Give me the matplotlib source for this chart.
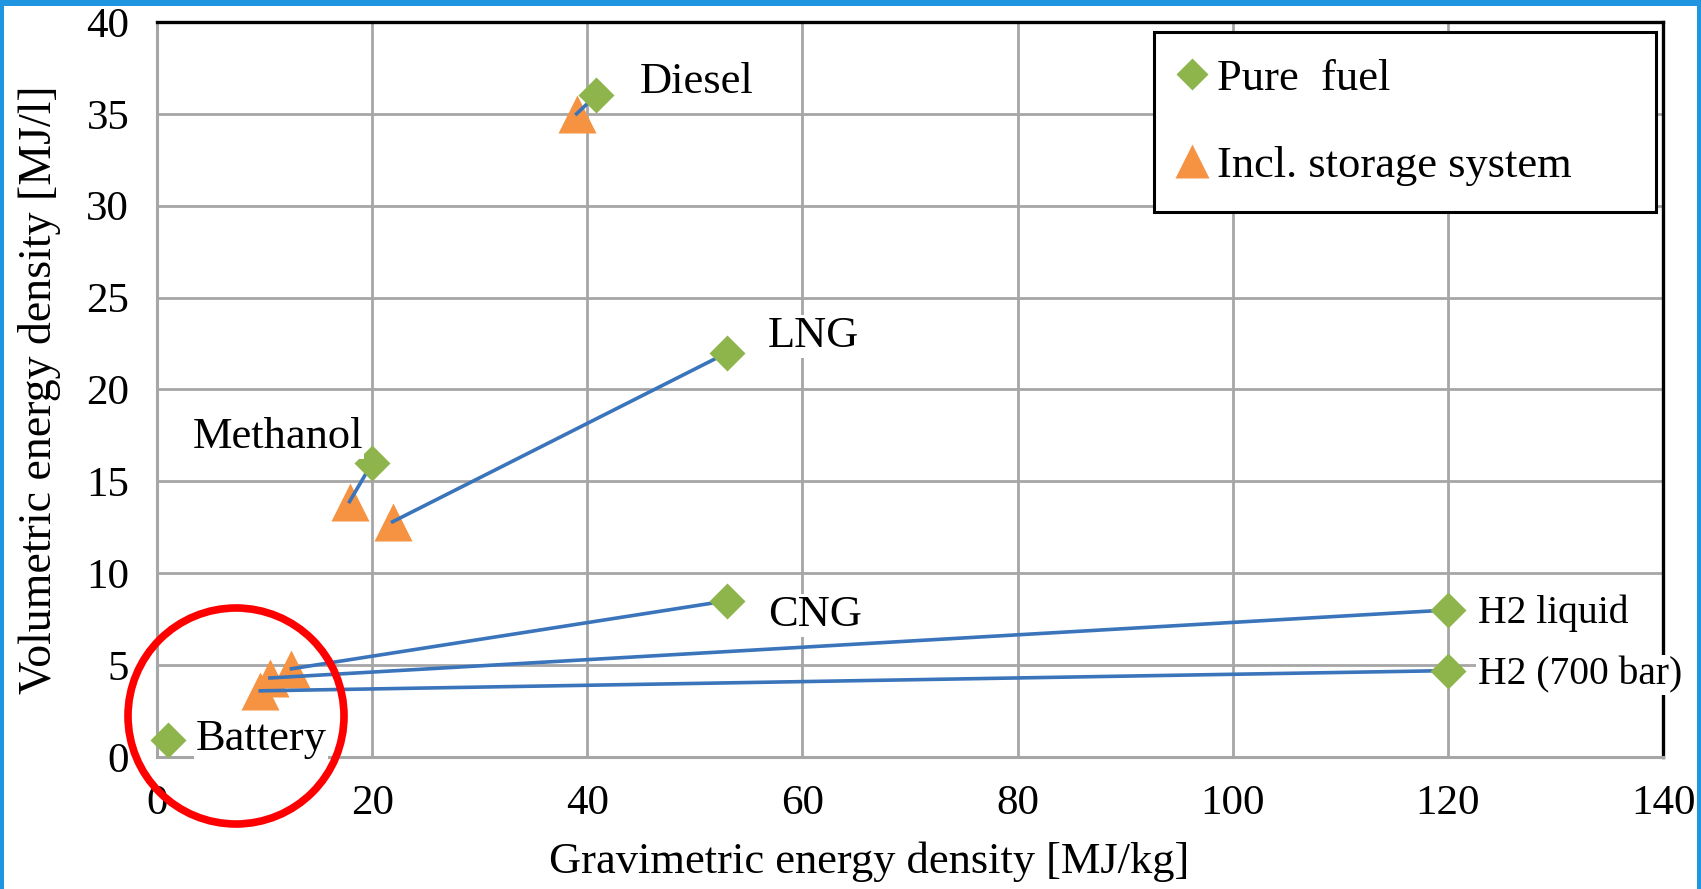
import matplotlib
matplotlib.use("Agg")
import matplotlib.pyplot as plt
from matplotlib.lines import Line2D
from matplotlib.patches import Circle, Rectangle

# Energy densities: pure fuel vs. including the storage system
fuels = ['Diesel', 'LNG', 'Methanol', 'CNG', 'H2 liquid', 'H2 (700 bar)', 'Battery']
pure_grav = [40.8, 53.0, 20.0, 53.0, 120.0, 120.0, 1.0]
pure_vol = [36.0, 22.0, 16.0, 8.5, 8.0, 4.7, 0.9]
# storage-system values (Battery has none)
stor_grav = [39.0, 21.9, 17.9, 12.5, 10.5, 9.6, None]
stor_vol = [35.0, 12.8, 13.9, 4.8, 4.3, 3.6, None]

# where each fuel name is written
label_x = [44.9, 56.8, 3.3, 56.8, 122.8, 122.8, 3.6]
label_y = [36.75, 22.9, 17.4, 7.7, 7.8, 4.45, 1.0]

green = '#8eb54b'
orange = '#f59342'
blue = '#3a74bb'
grid_grey = '#a6a6a6'

plt.rcParams['font.family'] = ['Liberation Serif', 'DejaVu Serif']

fig = plt.figure(figsize=(17.01, 8.89), dpi=100)
ax = fig.add_axes([0.0923, 0.1485, 0.8854, 0.8268])

# storage points, connecting lines, then pure points on top
for i in range(len(fuels)):
    if stor_grav[i] is None:
        continue
    ax.plot(stor_grav[i], stor_vol[i], marker='^', ms=28, color=orange,
            mec='none', zorder=3, clip_on=False)
    ax.plot([pure_grav[i], stor_grav[i]], [pure_vol[i], stor_vol[i]],
            color=blue, lw=2.6, zorder=4)
ax.plot(pure_grav, pure_vol, 'D', ms=18, color=green, mec='none',
        zorder=5, clip_on=False)

for name, lx, ly in zip(fuels, label_x, label_y):
    # the hydrogen labels sit by the right edge and are set a bit smaller
    size = 28.5 if name.startswith('H2') else 32
    ax.text(lx, ly, name, fontsize=size, va='center', ha='left', zorder=6,
            bbox=dict(facecolor='white', edgecolor='none', pad=1))

ax.set_xlim(0, 140)
ax.set_ylim(0, 40)
ax.set_xticks(range(0, 141, 20))
ax.set_yticks(range(0, 41, 5))
ax.tick_params(length=0, labelsize=31)
ax.tick_params(axis='y', pad=20)
ax.tick_params(axis='x', pad=20)
ax.grid(True, color=grid_grey, lw=2)
ax.set_axisbelow(True)

for side in ['left', 'bottom']:
    ax.spines[side].set_color(grid_grey)
    ax.spines[side].set_linewidth(2.2)
for side in ['top', 'right']:
    ax.spines[side].set_color('black')
    ax.spines[side].set_linewidth(2.4)

ax.set_xlabel('Gravimetric energy density [MJ/kg]', fontsize=32)
ax.set_ylabel('Volumetric energy density [MJ/l]', fontsize=33)
ax.xaxis.set_label_coords(0.473, -0.115)
ax.yaxis.set_label_coords(-0.064, 0.5)

handles = [
    Line2D([], [], ls='none', marker='D', ms=16, color=green, mec='none'),
    Line2D([], [], ls='none', marker='^', ms=25, color=orange, mec='none'),
]
leg = ax.legend(handles, ['Pure  fuel', 'Incl. storage system'],
                loc='upper left', bbox_to_anchor=(0.662, 0.70, 0.333, 0.2864),
                mode='expand', borderaxespad=0, fontsize=32, frameon=True,
                fancybox=False, framealpha=1, edgecolor='black',
                handlelength=0.5, handletextpad=0.32, labelspacing=1.05,
                borderpad=0.6)
leg.get_frame().set_linewidth(2.2)
leg.set_zorder(7)

# highlight ring around the battery cluster
fig.add_artist(Circle((2.36, 1.73), 1.08, transform=fig.dpi_scale_trans,
                      fill=False, ec='red', lw=5.5))

# blue page frame
frame_blue = '#2196e0'
fig.add_artist(Rectangle((0, 1 - 6 / 889), 1, 6 / 889, transform=fig.transFigure,
                         color=frame_blue, lw=0))
fig.add_artist(Rectangle((0, 0), 4 / 1701, 1, transform=fig.transFigure,
                         color=frame_blue, lw=0))
fig.add_artist(Rectangle((1 - 4 / 1701, 0), 4 / 1701, 1, transform=fig.transFigure,
                         color=frame_blue, lw=0))

fig.savefig('out.png', dpi=100)
